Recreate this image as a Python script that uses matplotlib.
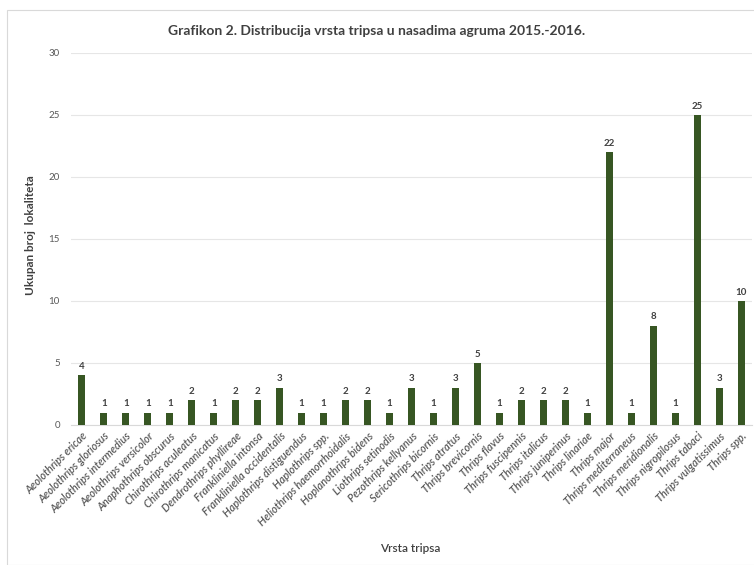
import matplotlib
matplotlib.use("Agg")
import matplotlib.pyplot as plt
from matplotlib.patches import Rectangle

plt.rcParams['font.family'] = ['Lato', 'DejaVu Sans']

species = [
    "Aeolothrips ericae", "Aeolothrips gloriosus", "Aeolothrips intermedius",
    "Aeolothrips versicolor", "Anaphothrips obscurus", "Chirothrips aculeatus",
    "Chirothrips manicatus", "Dendrothrips phyllireae", "Frankliniella intonsa",
    "Frankliniella occidentalis", "Haplothrips distiguendus", "Haplothrips spp.",
    "Heliothrips haemorrhoidalis", "Hoplanothrips bidens", "Liothrips setinodis",
    "Pezothrips kellyanus", "Sericothrips bicornis", "Thrips atratus",
    "Thrips brevicornis", "Thrips flavus", "Thrips fuscipennis", "Thrips italicus",
    "Thrips juniperinus", "Thrips linariae", "Thrips major", "Thrips mediterraneus",
    "Thrips meridionalis", "Thrips nigropilosus", "Thrips tabaci",
    "Thrips vulgatissimus", "Thrips spp.",
]
counts = [4, 1, 1, 1, 1, 2, 1, 2, 2, 3, 1, 1, 2, 2, 1, 3, 1, 3, 5, 1, 2, 2, 2, 1,
          22, 1, 8, 1, 25, 3, 10]
yticks = [0, 5, 10, 15, 20, 25, 30]

fig = plt.figure(figsize=(7.54, 5.65), dpi=100)
fig.patches.append(Rectangle((7/754, 0), 1, 1 - 10/565, transform=fig.transFigure,
                             fill=False, edgecolor='#d9d9d9', linewidth=0.8))
ax = fig.add_axes([71/754, 1 - 425/565, 681/754, 372/565])

x = list(range(len(species)))
bars = ax.bar(x, counts, width=0.32, color='#375623', zorder=3)
for xi, v in zip(x, counts):
    ax.text(xi, v + 0.35, str(v), ha='center', va='bottom', fontsize=7,
            fontweight='bold', color='#404040')

ax.set_xlim(-0.5, len(species) - 0.5)
ax.set_ylim(0, 30)
ax.set_yticks(yticks)
ax.set_yticklabels([str(t) for t in yticks], fontsize=7, color='#595959')
ax.yaxis.grid(True, color='#e6e6e6', linewidth=0.8, zorder=0)
ax.tick_params(axis='both', length=0, pad=8)
ax.set_xticks(x)
ax.set_xticklabels(species, rotation=45, ha='right', rotation_mode='anchor',
                   fontsize=7.8, style='italic', fontweight='semibold', color='#595959')
ax.tick_params(axis='x', pad=4)
for s in ['top', 'right', 'left']:
    ax.spines[s].set_visible(False)
ax.spines['bottom'].set_color('#d9d9d9')

fig.text(0.5, 1 - 31/565, "Grafikon 2. Distribucija vrsta tripsa u nasadima agruma 2015.-2016.",
         ha='center', va='center', fontsize=10, fontweight='bold', color='#404040')
fig.text(31/754, 1 - 235/565, "Ukupan broj  lokaliteta", rotation=90, ha='center',
         va='center', fontsize=8.5, fontweight='bold', color='#404040')
fig.text(410/754, 1 - 548/565, "Vrsta tripsa", ha='center', va='center',
         fontsize=8.5, fontweight='semibold', color='#404040')

fig.savefig("out.png", dpi=100)
